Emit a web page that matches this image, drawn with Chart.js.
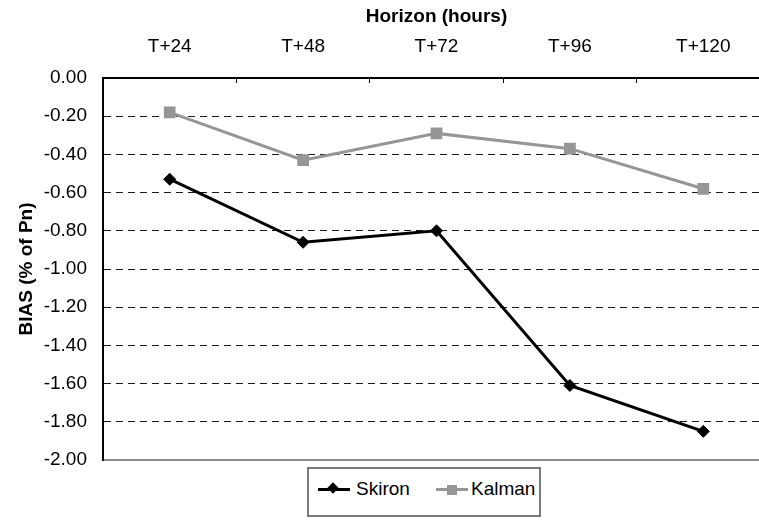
<!DOCTYPE html>
<html>
<head>
<meta charset="utf-8">
<script src="https://cdn.jsdelivr.net/npm/chart.js@4/dist/chart.umd.min.js"></script>
<style>
  html, body { margin: 0; padding: 0; background: #fff; overflow: hidden; width: 759px; height: 520px; }
  #wrap { position: absolute; left: 0; top: 0; width: 790px; height: 520px; }
  #legend { position: absolute; left: 307px; top: 467px; width: 234px; height: 50px; box-sizing: border-box;
            border: 2px solid #7a7a7a; background: #fff; font-family: 'Liberation Sans', Arial, sans-serif; font-size: 19px; color: #000; }
  .ln { position: absolute; height: 3px; top: 19px; }
  .txt { position: absolute; top: 9px; line-height: 22px; }
</style>
</head>
<body>
<div id="wrap"><canvas id="c" width="790" height="520"></canvas></div>
<div id="legend">
  <div class="ln" style="left:9px;width:32px;background:#000"></div>
  <div style="position:absolute;left:20px;top:15px;width:8px;height:8px;background:#000;transform:rotate(45deg)"></div>
  <div class="txt" style="left:47px">Skiron</div>
  <div class="ln" style="left:127px;width:32px;background:#969696"></div>
  <div style="position:absolute;left:138px;top:16px;width:10px;height:10px;background:#969696"></div>
  <div class="txt" style="left:162px">Kalman</div>
</div>
<script>
const categories = ['T+24', 'T+48', 'T+72', 'T+96', 'T+120'];
const skiron = [-0.53, -0.86, -0.80, -1.61, -1.85];
const kalman = [-0.18, -0.43, -0.29, -0.37, -0.58];
const yMin = -2.0, yMax = 0.0, yStep = 0.2;

Chart.defaults.font.family = "'Liberation Sans', Arial, sans-serif";
Chart.defaults.font.size = 19;
Chart.defaults.color = '#000';

new Chart(document.getElementById('c'), {
  type: 'line',
  data: {
    labels: categories,
    datasets: [
      { label: 'Skiron', data: skiron, borderColor: '#000', backgroundColor: '#000', borderWidth: 3,
        pointStyle: 'rectRot', pointRadius: 6, pointBorderWidth: 1, pointBackgroundColor: '#000', pointBorderColor: '#000', tension: 0, xAxisID: 'x' },
      { label: 'Kalman', data: kalman, borderColor: '#969696', backgroundColor: '#969696', borderWidth: 3,
        pointStyle: 'rect', pointRadius: 8.3, pointBorderWidth: 0, pointBackgroundColor: '#969696', pointBorderColor: '#969696', tension: 0, xAxisID: 'x' }
    ]
  },
  options: {
    responsive: false,
    animation: false,
    devicePixelRatio: 1,
    layout: { padding: { left: 0, top: 0, right: 20, bottom: 60 } },
    plugins: { legend: { display: false }, tooltip: { enabled: false } },
    scales: {
      x: {
        type: 'category',
        position: 'top',
        offset: true,
        grid: { offset: true, drawOnChartArea: false, drawTicks: true, tickLength: -5, color: '#000', lineWidth: 1 },
        border: { display: true, color: '#000', width: 2 },
        ticks: { padding: 24.6, font: { size: 19 }, color: '#000', maxRotation: 0 },
        title: { display: true, text: 'Horizon (hours)', font: { size: 19, weight: 'bold' }, color: '#000', padding: { top: 5.6, bottom: 0 } },
        afterFit: s => { s.height = 78; }
      },
      xb: {
        type: 'category',
        position: 'bottom',
        labels: categories,
        offset: true,
        grid: { display: false, drawTicks: false },
        ticks: { display: false },
        border: { display: true, color: '#8c8c8c', width: 2 },
        afterFit: s => { s.height = 0; }
      },
      y: {
        min: yMin, max: yMax,
        grid: {
          drawTicks: false,
          lineWidth: 1,
          color: c => (c.tick && (Math.abs(c.tick.value - yMin) < 1e-6 || Math.abs(c.tick.value - yMax) < 1e-6)) ? 'rgba(0,0,0,0)' : '#1a1a1a'
        },
        border: { display: true, color: '#000', width: 2, dash: [7, 5] },
        ticks: { stepSize: yStep, padding: 16, font: { size: 19 }, color: '#000', callback: v => Number(v).toFixed(2) },
        title: { display: true, text: 'BIAS (% of Pn)', font: { size: 19, weight: 'bold' }, color: '#000', padding: { top: 15.6, bottom: 0 } },
        afterFit: s => { s.width = 103; }
      }
    }
  }
});
</script>
</body>
</html>
